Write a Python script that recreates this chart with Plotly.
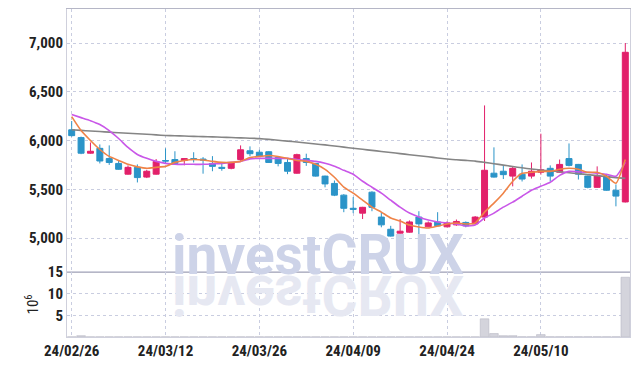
import plotly.graph_objects as go
from plotly.subplots import make_subplots

dates = ["24/02/26","24/02/27","24/02/28","24/02/29","24/03/04","24/03/05","24/03/06","24/03/07","24/03/08","24/03/11",
         "24/03/12","24/03/13","24/03/14","24/03/15","24/03/18","24/03/19","24/03/20","24/03/21","24/03/22","24/03/25",
         "24/03/26","24/03/27","24/03/28","24/03/29","24/04/01","24/04/02","24/04/03","24/04/04","24/04/05","24/04/08",
         "24/04/09","24/04/11","24/04/12","24/04/15","24/04/16","24/04/17","24/04/18","24/04/19","24/04/22","24/04/23",
         "24/04/24","24/04/25","24/04/26","24/04/29","24/04/30","24/05/02","24/05/03","24/05/07","24/05/08","24/05/09",
         "24/05/10","24/05/13","24/05/14","24/05/16","24/05/17","24/05/20","24/05/21","24/05/22","24/05/23","24/05/24"]

open_ = [6110,6030,5870,5920,5815,5765,5655,5725,5625,5655,
         5795,5805,5795,5815,5810,5765,5725,5715,5805,5895,
         5880,5885,5825,5775,5665,5815,5765,5635,5560,5440,
         5305,5255,5470,5215,5090,5050,5060,5215,5115,5165,
         5115,5135,5160,5145,5215,5665,5685,5635,5655,5635,
         5675,5715,5675,5815,5755,5635,5520,5635,5490,5370]
high = [6200,6040,5980,5960,5950,5790,5745,5755,5700,5810,
        5920,5890,5820,5880,5830,5840,5775,5780,5950,5940,
        5905,5890,5830,5815,5865,5865,5770,5640,5590,5450,
        5420,5320,5480,5265,5125,5195,5180,5275,5170,5265,
        5170,5190,5170,5225,6360,5930,5740,5735,5755,5775,
        6070,5745,5805,5970,5760,5640,5735,5650,5550,7000]
low = [6040,5860,5865,5765,5750,5700,5650,5570,5615,5650,
       5760,5755,5745,5775,5660,5685,5690,5705,5780,5840,
       5835,5770,5735,5655,5660,5740,5630,5520,5430,5265,
       5255,5195,5275,5110,5015,5045,5055,5020,5110,5120,
       5110,5125,5110,5140,5175,5620,5605,5530,5580,5610,
       5650,5580,5670,5735,5600,5510,5515,5485,5325,5365]
close = [6050,5870,5890,5790,5775,5705,5725,5620,5685,5785,
         5790,5765,5815,5805,5800,5735,5715,5775,5905,5865,
         5840,5775,5765,5685,5855,5775,5635,5555,5440,5305,
         5295,5315,5315,5135,5020,5070,5165,5145,5155,5125,
         5155,5170,5125,5215,5695,5625,5650,5715,5605,5685,
         5700,5635,5755,5745,5655,5520,5635,5490,5430,6905]

ma_short = [6245,6102,6000,5908,5837,5796,5756,5730,5715,5725,
            5735,5776,5796,5806,5801,5786,5776,5776,5786,5827,
            5837,5847,5837,5817,5796,5786,5756,5705,5623,5521,
            5460,5388,5317,5266,5205,5174,5133,5113,5103,5123,
            5144,5154,5144,5154,5266,5358,5460,5582,5664,5674,
            5684,5684,5705,5715,5705,5674,5674,5633,5562,5806]
ma_mid = [6266,6235,6204,6164,6102,6021,5929,5857,5817,5786,
          5766,5756,5756,5756,5756,5761,5766,5776,5786,5812,
          5817,5817,5817,5817,5806,5796,5786,5766,5735,5694,
          5654,5582,5521,5460,5388,5317,5256,5215,5184,5164,
          5154,5144,5123,5133,5205,5256,5317,5368,5429,5490,
          5531,5572,5643,5684,5679,5674,5664,5654,5633,5776]
ma_long = [6110,6104,6098,6092,6086,6080,6075,6070,6065,6058,
           6052,6049,6046,6043,6040,6037,6034,6031,6027,6024,
           6020,6012,6003,5994,5985,5975,5965,5955,5944,5932,
           5920,5910,5899,5888,5877,5866,5855,5844,5833,5821,
           5810,5803,5796,5789,5776,5762,5748,5733,5720,5708,
           5697,5689,5680,5670,5660,5650,5640,5630,5620,5612]

volume_m = [0.03,0.3,0.03,0.03,0.03,0.03,0.03,0.03,0.03,0.03,
            0.03,0.03,0.03,0.03,0.03,0.03,0.03,0.03,0.03,0.03,
            0.03,0.03,0.03,0.03,0.03,0.03,0.03,0.03,0.03,0.03,
            0.03,0.03,0.03,0.03,0.03,0.03,0.03,0.03,0.03,0.03,
            0.03,0.03,0.03,0.03,4.2,0.8,0.3,0.3,0.05,0.05,
            0.55,0.05,0.05,0.05,0.05,0.05,0.05,0.05,0.05,13.8]

tick_labels = ["24/02/26","24/03/12","24/03/26","24/04/09","24/04/24","24/05/10"]
price_ticks = [5000, 5500, 6000, 6500, 7000]
vol_ticks = [5, 10, 15]

UP = "#e2206a"
DOWN = "#2b94c8"
GRID = "#c9cde0"
FONT = "Liberation Sans Narrow, Arial Narrow, Roboto Condensed, sans-serif"
TXT = "#222222"

fig = make_subplots(rows=2, cols=1, shared_xaxes=True, vertical_spacing=0,
                    row_heights=[0.802, 0.198])

fig.add_trace(go.Scatter(x=dates, y=ma_long, mode="lines", line=dict(color="#858585", width=1.6, shape="spline", smoothing=0.5),
                         hoverinfo="skip", showlegend=False), row=1, col=1)
fig.add_trace(go.Scatter(x=dates, y=ma_mid, mode="lines", line=dict(color="#c957e8", width=1.6, shape="spline", smoothing=0.5),
                         hoverinfo="skip", showlegend=False), row=1, col=1)
fig.add_trace(go.Scatter(x=dates, y=ma_short, mode="lines", line=dict(color="#ef8347", width=1.6, shape="spline", smoothing=0.5),
                         hoverinfo="skip", showlegend=False), row=1, col=1)
fig.add_trace(go.Candlestick(x=dates, open=open_, high=high, low=low, close=close,
                             increasing=dict(line=dict(color=UP, width=1), fillcolor=UP),
                             decreasing=dict(line=dict(color=DOWN, width=1), fillcolor=DOWN),
                             showlegend=False), row=1, col=1)
fig.add_trace(go.Bar(x=dates, y=volume_m, marker=dict(color="#d4d4dc", line=dict(width=0.6, color="#b9b9c4")),
                     showlegend=False), row=2, col=1)

fig.update_layout(
    width=639, height=366,
    margin=dict(l=67, r=9, t=9, b=29, autoexpand=False),
    paper_bgcolor="white", plot_bgcolor="white",
    bargap=0.08, boxgap=0.33, boxgroupgap=0.05,
    font=dict(family=FONT, size=15, color=TXT, weight="bold"),
    annotations=[
        dict(text="investCRUX", xref="paper", yref="paper", x=0.446, y=0.25,
             xanchor="center", yanchor="middle", showarrow=False,
             font=dict(family="Roboto", size=55, color="#cdd3e8", weight="bold")),
        dict(text="investCRUX", xref="paper", yref="paper", x=0.446, y=0.128,
             xanchor="center", yanchor="middle", showarrow=False,
             font=dict(family="Roboto", size=55, color="#e6e8f2", weight="bold")),
    ],
)

xcommon = dict(type="category", tickmode="array", tickvals=tick_labels, ticktext=tick_labels,
               showgrid=True, gridcolor=GRID, griddash="dot", gridwidth=1, automargin=False,
               showline=True, linecolor="#cfd0dc", linewidth=1, mirror=True, ticks="",
               range=[-0.5, len(dates) - 0.5], rangeslider=dict(visible=False))
fig.update_xaxes(**xcommon)
fig.update_xaxes(showticklabels=False, linecolor="#b5b6c6", row=1, col=1)
fig.update_xaxes(showticklabels=True, tickfont=dict(family=FONT, size=15, color=TXT, weight="bold"), row=2, col=1)

fig.update_yaxes(range=[4651, 7349], tickmode="array", tickvals=price_ticks,
                 ticktext=[f"{v:,}" for v in price_ticks], automargin=False,
                 showgrid=True, gridcolor=GRID, griddash="dot", gridwidth=1,
                 showline=True, linecolor="#cfd0dc", mirror=True, ticks="",
                 zeroline=False, row=1, col=1)
fig.update_yaxes(range=[0, 15], tickmode="array", tickvals=vol_ticks, automargin=False,
                 showgrid=True, gridcolor=GRID, griddash="dot", gridwidth=1,
                 showline=True, linecolor="#cfd0dc", mirror=True, ticks="",
                 zeroline=False, title=dict(text="10<sup>6</sup>", standoff=5,
                                            font=dict(family=FONT, size=15, color=TXT, weight="normal")),
                 row=2, col=1)

post = """
document.body.style.margin = '0';
document.body.style.padding = '0';
var t = document.querySelectorAll('.annotation-text');
if (t.length > 1) {
  var el = t[1];
  el.style.transformBox = 'fill-box';
  el.style.transformOrigin = 'center';
  el.style.transform = 'scaleY(-1)';
}
"""
fig.write_html("out.html", post_script=post, config={"displayModeBar": False})
